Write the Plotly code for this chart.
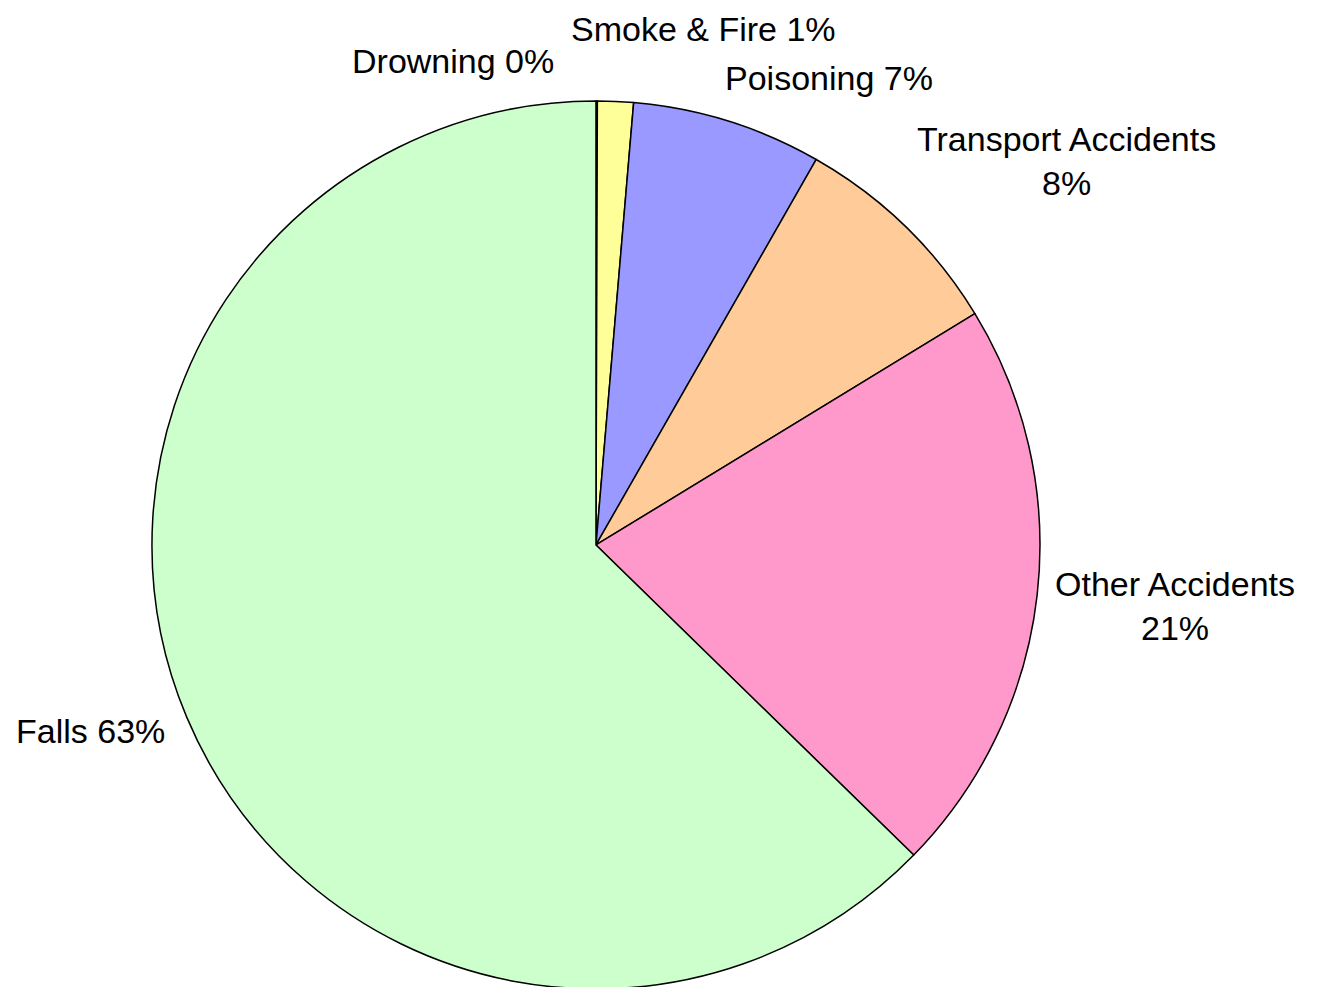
import math
import plotly.graph_objects as go

categories = ["Drowning", "Smoke & Fire", "Poisoning", "Transport Accidents", "Other Accidents", "Falls"]
values = [0.05, 1.3, 6.9, 8.0, 21.0, 62.6]
colors = ["#99CCFF", "#FFFF99", "#9999FF", "#FFCC99", "#FF99CC", "#CCFFCC"]
label_breaks = [" ", " ", " ", "<br>", "<br>", " "]

W, H = 1317, 987
dom_x = [0.1093, 0.7836]
dom_y = [0.0061, 0.9058]

fig = go.Figure(go.Pie(
    labels=categories,
    values=values,
    sort=False,
    direction="clockwise",
    rotation=0,
    marker=dict(colors=colors, line=dict(color="black", width=1.5)),
    textinfo="none",
    domain=dict(x=dom_x, y=dom_y),
    showlegend=False,
    hoverinfo="label+percent",
))

# Label placement derived from the pie geometry and slice mid-angles
cx = (dom_x[0] + dom_x[1]) / 2 * W
cy = (1 - (dom_y[0] + dom_y[1]) / 2) * H
R = min((dom_x[1] - dom_x[0]) * W, (dom_y[1] - dom_y[0]) * H) / 2
gap = 20
total = sum(values)
# small manual nudges (pixels, +y = down) to avoid overlaps, like the reference
nudges = {
    "Drowning": (-42, 0, "right"),
    "Smoke & Fire": (-46, -32, "left"),
    "Poisoning": (-10, -4, None),
    "Transport Accidents": (-3, -9, None),
    "Other Accidents": (-3, 9, None),
    "Falls": (-2, 6, None),
}

cum = 0.0
for cat, v, br in zip(categories, values, label_breaks):
    mid = (cum + v / 2) / total * 2 * math.pi
    cum += v
    dx, dy_up = math.sin(mid), math.cos(mid)
    px = cx + (R + gap) * dx
    py = cy - (R + gap) * dy_up
    xa = "left" if dx > 0.1 else ("right" if dx < -0.1 else "center")
    ya = "bottom" if dy_up > 0.5 else ("top" if dy_up < -0.5 else "middle")
    xs, ys, xa_override = nudges.get(cat, (0, 0, None))
    if xa_override:
        xa = xa_override
    pct = round(v / total * 100)
    fig.add_annotation(
        x=px / W, y=1 - py / H, xref="paper", yref="paper",
        text=f"{cat}{br}{pct}%", showarrow=False,
        xanchor=xa, yanchor=ya, xshift=xs, yshift=-ys,
        align="center", borderpad=0,
        font=dict(family="Liberation Sans, Arial", size=34, color="black"),
    )

fig.update_layout(
    width=W, height=H,
    margin=dict(l=0, r=0, t=0, b=0),
    paper_bgcolor="white",
    plot_bgcolor="white",
)

fig.write_html("out.html")
